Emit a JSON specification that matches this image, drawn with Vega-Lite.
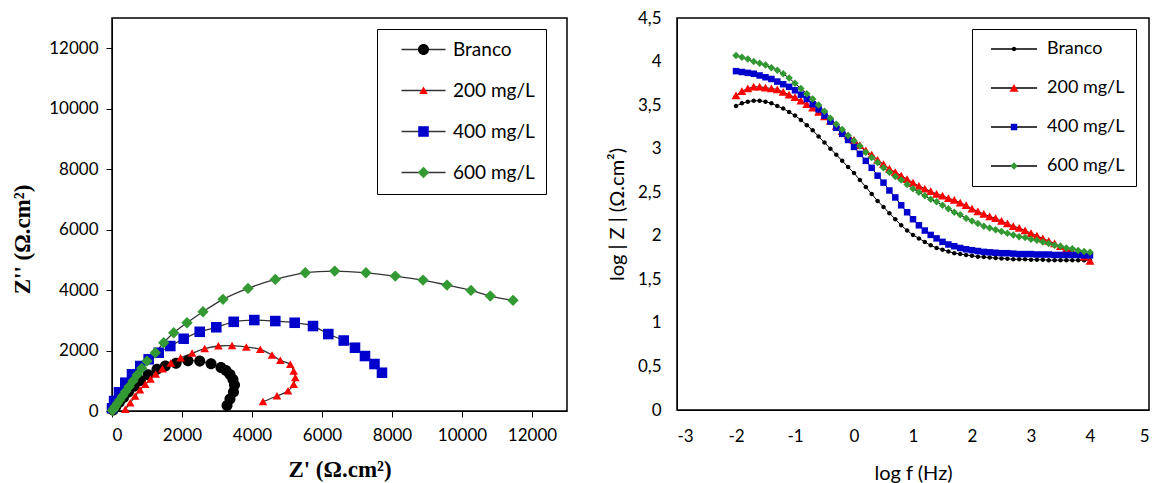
{
  "$schema": "https://vega.github.io/schema/vega-lite/v6.json",
  "padding": {"left": 10, "top": 8, "right": 5, "bottom": 0},
  "bounds": "flush",
  "spacing": 110,
  "config": {
    "view": {"stroke": "#000", "strokeWidth": 1.5},
    "font": "Lato",
    "axis": {"grid": false, "domainColor": "#000", "tickColor": "#000", "labelColor": "#000", "titleColor": "#000", "labelFont": "Lato", "labelFontSize": 17, "labelFontWeight": "normal", "labelOverlap": false}
  },
  "resolve": {"scale": {"color": "independent", "shape": "independent", "stroke": "independent"}},
  "datasets": {
    "nyq": [
      {"s": "Branco", "x": 30, "y": 30}, {"s": "Branco", "x": 110, "y": 150}, {"s": "Branco", "x": 210, "y": 290}, {"s": "Branco", "x": 330, "y": 450}, {"s": "Branco", "x": 470, "y": 630}, {"s": "Branco", "x": 630, "y": 820}, {"s": "Branco", "x": 810, "y": 1010}, {"s": "Branco", "x": 1030, "y": 1200}, {"s": "Branco", "x": 1286, "y": 1378}, {"s": "Branco", "x": 1523, "y": 1488}, {"s": "Branco", "x": 1829, "y": 1580}, {"s": "Branco", "x": 2171, "y": 1660}, {"s": "Branco", "x": 2506, "y": 1650}, {"s": "Branco", "x": 2829, "y": 1560}, {"s": "Branco", "x": 3114, "y": 1438}, {"s": "Branco", "x": 3257, "y": 1339}, {"s": "Branco", "x": 3371, "y": 1207}, {"s": "Branco", "x": 3457, "y": 1041}, {"s": "Branco", "x": 3500, "y": 860}, {"s": "Branco", "x": 3471, "y": 628}, {"s": "Branco", "x": 3371, "y": 397}, {"s": "Branco", "x": 3286, "y": 182},
      {"s": "200 mg/L", "x": 380, "y": 50}, {"s": "200 mg/L", "x": 520, "y": 270}, {"s": "200 mg/L", "x": 660, "y": 490}, {"s": "200 mg/L", "x": 800, "y": 700}, {"s": "200 mg/L", "x": 950, "y": 880}, {"s": "200 mg/L", "x": 1100, "y": 1050}, {"s": "200 mg/L", "x": 1250, "y": 1220}, {"s": "200 mg/L", "x": 1440, "y": 1390}, {"s": "200 mg/L", "x": 1680, "y": 1580}, {"s": "200 mg/L", "x": 1960, "y": 1760}, {"s": "200 mg/L", "x": 2290, "y": 1910}, {"s": "200 mg/L", "x": 2650, "y": 2060}, {"s": "200 mg/L", "x": 3040, "y": 2150}, {"s": "200 mg/L", "x": 3430, "y": 2160}, {"s": "200 mg/L", "x": 3837, "y": 2116}, {"s": "200 mg/L", "x": 4237, "y": 2040}, {"s": "200 mg/L", "x": 4571, "y": 1851}, {"s": "200 mg/L", "x": 4809, "y": 1676}, {"s": "200 mg/L", "x": 5094, "y": 1544}, {"s": "200 mg/L", "x": 5191, "y": 1322}, {"s": "200 mg/L", "x": 5237, "y": 1101}, {"s": "200 mg/L", "x": 5191, "y": 883}, {"s": "200 mg/L", "x": 5029, "y": 661}, {"s": "200 mg/L", "x": 4714, "y": 496}, {"s": "200 mg/L", "x": 4314, "y": 307},
      {"s": "400 mg/L", "x": 0, "y": 90}, {"s": "400 mg/L", "x": 60, "y": 330}, {"s": "400 mg/L", "x": 200, "y": 620}, {"s": "400 mg/L", "x": 380, "y": 936}, {"s": "400 mg/L", "x": 571, "y": 1213}, {"s": "400 mg/L", "x": 808, "y": 1488}, {"s": "400 mg/L", "x": 1048, "y": 1709}, {"s": "400 mg/L", "x": 1334, "y": 1927}, {"s": "400 mg/L", "x": 1666, "y": 2149}, {"s": "400 mg/L", "x": 2048, "y": 2390}, {"s": "400 mg/L", "x": 2506, "y": 2620}, {"s": "400 mg/L", "x": 2980, "y": 2770}, {"s": "400 mg/L", "x": 3477, "y": 2950}, {"s": "400 mg/L", "x": 4066, "y": 3008}, {"s": "400 mg/L", "x": 4666, "y": 2975}, {"s": "400 mg/L", "x": 5220, "y": 2919}, {"s": "400 mg/L", "x": 5743, "y": 2810}, {"s": "400 mg/L", "x": 6180, "y": 2545}, {"s": "400 mg/L", "x": 6620, "y": 2331}, {"s": "400 mg/L", "x": 6943, "y": 2093}, {"s": "400 mg/L", "x": 7228, "y": 1818}, {"s": "400 mg/L", "x": 7500, "y": 1554}, {"s": "400 mg/L", "x": 7714, "y": 1266},
      {"s": "600 mg/L", "x": 15, "y": 20}, {"s": "600 mg/L", "x": 45, "y": 70}, {"s": "600 mg/L", "x": 90, "y": 145}, {"s": "600 mg/L", "x": 150, "y": 245}, {"s": "600 mg/L", "x": 220, "y": 360}, {"s": "600 mg/L", "x": 300, "y": 495}, {"s": "600 mg/L", "x": 390, "y": 645}, {"s": "600 mg/L", "x": 490, "y": 810}, {"s": "600 mg/L", "x": 600, "y": 995}, {"s": "600 mg/L", "x": 720, "y": 1195}, {"s": "600 mg/L", "x": 850, "y": 1410}, {"s": "600 mg/L", "x": 1000, "y": 1650}, {"s": "600 mg/L", "x": 1237, "y": 1927}, {"s": "600 mg/L", "x": 1477, "y": 2258}, {"s": "600 mg/L", "x": 1763, "y": 2588}, {"s": "600 mg/L", "x": 2143, "y": 2919}, {"s": "600 mg/L", "x": 2600, "y": 3283}, {"s": "600 mg/L", "x": 3171, "y": 3693}, {"s": "600 mg/L", "x": 3886, "y": 4056}, {"s": "600 mg/L", "x": 4666, "y": 4354}, {"s": "600 mg/L", "x": 5523, "y": 4572}, {"s": "600 mg/L", "x": 6363, "y": 4628}, {"s": "600 mg/L", "x": 7257, "y": 4572}, {"s": "600 mg/L", "x": 8094, "y": 4463}, {"s": "600 mg/L", "x": 8886, "y": 4330}, {"s": "600 mg/L", "x": 9571, "y": 4165}, {"s": "600 mg/L", "x": 10257, "y": 3990}, {"s": "600 mg/L", "x": 10808, "y": 3802}, {"s": "600 mg/L", "x": 11457, "y": 3660}
    ],
    "bode": [
      {"s": "Branco", "f": -2.0, "z": 3.49}, {"s": "Branco", "f": -1.9, "z": 3.52}, {"s": "Branco", "f": -1.8, "z": 3.54}, {"s": "Branco", "f": -1.7, "z": 3.55}, {"s": "Branco", "f": -1.6, "z": 3.55}, {"s": "Branco", "f": -1.5, "z": 3.54}, {"s": "Branco", "f": -1.4, "z": 3.52}, {"s": "Branco", "f": -1.3, "z": 3.49}, {"s": "Branco", "f": -1.2, "z": 3.46}, {"s": "Branco", "f": -1.1, "z": 3.42}, {"s": "Branco", "f": -1.0, "z": 3.38}, {"s": "Branco", "f": -0.9, "z": 3.33}, {"s": "Branco", "f": -0.8, "z": 3.27}, {"s": "Branco", "f": -0.7, "z": 3.21}, {"s": "Branco", "f": -0.6, "z": 3.14}, {"s": "Branco", "f": -0.5, "z": 3.07}, {"s": "Branco", "f": -0.4, "z": 3.0}, {"s": "Branco", "f": -0.3, "z": 2.93}, {"s": "Branco", "f": -0.2, "z": 2.86}, {"s": "Branco", "f": -0.1, "z": 2.79}, {"s": "Branco", "f": 0.0, "z": 2.72}, {"s": "Branco", "f": 0.1, "z": 2.64}, {"s": "Branco", "f": 0.2, "z": 2.56}, {"s": "Branco", "f": 0.3, "z": 2.48}, {"s": "Branco", "f": 0.4, "z": 2.4}, {"s": "Branco", "f": 0.5, "z": 2.33}, {"s": "Branco", "f": 0.6, "z": 2.26}, {"s": "Branco", "f": 0.7, "z": 2.19}, {"s": "Branco", "f": 0.8, "z": 2.12}, {"s": "Branco", "f": 0.9, "z": 2.06}, {"s": "Branco", "f": 1.0, "z": 2.01}, {"s": "Branco", "f": 1.1, "z": 1.97}, {"s": "Branco", "f": 1.2, "z": 1.93}, {"s": "Branco", "f": 1.3, "z": 1.89}, {"s": "Branco", "f": 1.4, "z": 1.86}, {"s": "Branco", "f": 1.5, "z": 1.84}, {"s": "Branco", "f": 1.6, "z": 1.82}, {"s": "Branco", "f": 1.7, "z": 1.8}, {"s": "Branco", "f": 1.8, "z": 1.79}, {"s": "Branco", "f": 1.9, "z": 1.78}, {"s": "Branco", "f": 2.0, "z": 1.77}, {"s": "Branco", "f": 2.1, "z": 1.76}, {"s": "Branco", "f": 2.2, "z": 1.755}, {"s": "Branco", "f": 2.3, "z": 1.75}, {"s": "Branco", "f": 2.4, "z": 1.745}, {"s": "Branco", "f": 2.5, "z": 1.74}, {"s": "Branco", "f": 2.6, "z": 1.735}, {"s": "Branco", "f": 2.7, "z": 1.73}, {"s": "Branco", "f": 2.8, "z": 1.73}, {"s": "Branco", "f": 2.9, "z": 1.73}, {"s": "Branco", "f": 3.0, "z": 1.725}, {"s": "Branco", "f": 3.1, "z": 1.725}, {"s": "Branco", "f": 3.2, "z": 1.725}, {"s": "Branco", "f": 3.3, "z": 1.72}, {"s": "Branco", "f": 3.4, "z": 1.72}, {"s": "Branco", "f": 3.5, "z": 1.72}, {"s": "Branco", "f": 3.6, "z": 1.72}, {"s": "Branco", "f": 3.7, "z": 1.72}, {"s": "Branco", "f": 3.8, "z": 1.72}, {"s": "Branco", "f": 3.9, "z": 1.72}, {"s": "Branco", "f": 4.0, "z": 1.72},
      {"s": "200 mg/L", "f": -2.0, "z": 3.61}, {"s": "200 mg/L", "f": -1.9, "z": 3.66}, {"s": "200 mg/L", "f": -1.8, "z": 3.69}, {"s": "200 mg/L", "f": -1.7, "z": 3.71}, {"s": "200 mg/L", "f": -1.6, "z": 3.71}, {"s": "200 mg/L", "f": -1.5, "z": 3.7}, {"s": "200 mg/L", "f": -1.4, "z": 3.69}, {"s": "200 mg/L", "f": -1.3, "z": 3.68}, {"s": "200 mg/L", "f": -1.2, "z": 3.65}, {"s": "200 mg/L", "f": -1.1, "z": 3.62}, {"s": "200 mg/L", "f": -1.0, "z": 3.59}, {"s": "200 mg/L", "f": -0.9, "z": 3.55}, {"s": "200 mg/L", "f": -0.8, "z": 3.51}, {"s": "200 mg/L", "f": -0.7, "z": 3.47}, {"s": "200 mg/L", "f": -0.6, "z": 3.42}, {"s": "200 mg/L", "f": -0.5, "z": 3.37}, {"s": "200 mg/L", "f": -0.4, "z": 3.32}, {"s": "200 mg/L", "f": -0.3, "z": 3.26}, {"s": "200 mg/L", "f": -0.2, "z": 3.2}, {"s": "200 mg/L", "f": -0.1, "z": 3.15}, {"s": "200 mg/L", "f": 0.0, "z": 3.1}, {"s": "200 mg/L", "f": 0.1, "z": 3.04}, {"s": "200 mg/L", "f": 0.2, "z": 2.98}, {"s": "200 mg/L", "f": 0.3, "z": 2.93}, {"s": "200 mg/L", "f": 0.4, "z": 2.87}, {"s": "200 mg/L", "f": 0.5, "z": 2.82}, {"s": "200 mg/L", "f": 0.6, "z": 2.77}, {"s": "200 mg/L", "f": 0.7, "z": 2.73}, {"s": "200 mg/L", "f": 0.8, "z": 2.69}, {"s": "200 mg/L", "f": 0.9, "z": 2.65}, {"s": "200 mg/L", "f": 1.0, "z": 2.61}, {"s": "200 mg/L", "f": 1.1, "z": 2.57}, {"s": "200 mg/L", "f": 1.2, "z": 2.54}, {"s": "200 mg/L", "f": 1.3, "z": 2.51}, {"s": "200 mg/L", "f": 1.4, "z": 2.48}, {"s": "200 mg/L", "f": 1.5, "z": 2.46}, {"s": "200 mg/L", "f": 1.6, "z": 2.43}, {"s": "200 mg/L", "f": 1.7, "z": 2.41}, {"s": "200 mg/L", "f": 1.8, "z": 2.38}, {"s": "200 mg/L", "f": 1.9, "z": 2.35}, {"s": "200 mg/L", "f": 2.0, "z": 2.31}, {"s": "200 mg/L", "f": 2.1, "z": 2.28}, {"s": "200 mg/L", "f": 2.2, "z": 2.25}, {"s": "200 mg/L", "f": 2.3, "z": 2.22}, {"s": "200 mg/L", "f": 2.4, "z": 2.2}, {"s": "200 mg/L", "f": 2.5, "z": 2.17}, {"s": "200 mg/L", "f": 2.6, "z": 2.14}, {"s": "200 mg/L", "f": 2.7, "z": 2.11}, {"s": "200 mg/L", "f": 2.8, "z": 2.09}, {"s": "200 mg/L", "f": 2.9, "z": 2.06}, {"s": "200 mg/L", "f": 3.0, "z": 2.03}, {"s": "200 mg/L", "f": 3.1, "z": 2.0}, {"s": "200 mg/L", "f": 3.2, "z": 1.97}, {"s": "200 mg/L", "f": 3.3, "z": 1.94}, {"s": "200 mg/L", "f": 3.4, "z": 1.91}, {"s": "200 mg/L", "f": 3.5, "z": 1.88}, {"s": "200 mg/L", "f": 3.6, "z": 1.85}, {"s": "200 mg/L", "f": 3.7, "z": 1.82}, {"s": "200 mg/L", "f": 3.8, "z": 1.79}, {"s": "200 mg/L", "f": 3.9, "z": 1.76}, {"s": "200 mg/L", "f": 4.0, "z": 1.71},
      {"s": "400 mg/L", "f": -2.0, "z": 3.89}, {"s": "400 mg/L", "f": -1.9, "z": 3.88}, {"s": "400 mg/L", "f": -1.8, "z": 3.87}, {"s": "400 mg/L", "f": -1.7, "z": 3.86}, {"s": "400 mg/L", "f": -1.6, "z": 3.84}, {"s": "400 mg/L", "f": -1.5, "z": 3.82}, {"s": "400 mg/L", "f": -1.4, "z": 3.8}, {"s": "400 mg/L", "f": -1.3, "z": 3.77}, {"s": "400 mg/L", "f": -1.2, "z": 3.74}, {"s": "400 mg/L", "f": -1.1, "z": 3.71}, {"s": "400 mg/L", "f": -1.0, "z": 3.67}, {"s": "400 mg/L", "f": -0.9, "z": 3.62}, {"s": "400 mg/L", "f": -0.8, "z": 3.57}, {"s": "400 mg/L", "f": -0.7, "z": 3.51}, {"s": "400 mg/L", "f": -0.6, "z": 3.45}, {"s": "400 mg/L", "f": -0.5, "z": 3.38}, {"s": "400 mg/L", "f": -0.4, "z": 3.31}, {"s": "400 mg/L", "f": -0.3, "z": 3.24}, {"s": "400 mg/L", "f": -0.2, "z": 3.17}, {"s": "400 mg/L", "f": -0.1, "z": 3.1}, {"s": "400 mg/L", "f": 0.0, "z": 3.02}, {"s": "400 mg/L", "f": 0.1, "z": 2.94}, {"s": "400 mg/L", "f": 0.2, "z": 2.86}, {"s": "400 mg/L", "f": 0.3, "z": 2.78}, {"s": "400 mg/L", "f": 0.4, "z": 2.69}, {"s": "400 mg/L", "f": 0.5, "z": 2.61}, {"s": "400 mg/L", "f": 0.6, "z": 2.52}, {"s": "400 mg/L", "f": 0.7, "z": 2.44}, {"s": "400 mg/L", "f": 0.8, "z": 2.35}, {"s": "400 mg/L", "f": 0.9, "z": 2.27}, {"s": "400 mg/L", "f": 1.0, "z": 2.19}, {"s": "400 mg/L", "f": 1.1, "z": 2.12}, {"s": "400 mg/L", "f": 1.2, "z": 2.06}, {"s": "400 mg/L", "f": 1.3, "z": 2.01}, {"s": "400 mg/L", "f": 1.4, "z": 1.97}, {"s": "400 mg/L", "f": 1.5, "z": 1.93}, {"s": "400 mg/L", "f": 1.6, "z": 1.9}, {"s": "400 mg/L", "f": 1.7, "z": 1.88}, {"s": "400 mg/L", "f": 1.8, "z": 1.86}, {"s": "400 mg/L", "f": 1.9, "z": 1.845}, {"s": "400 mg/L", "f": 2.0, "z": 1.835}, {"s": "400 mg/L", "f": 2.1, "z": 1.825}, {"s": "400 mg/L", "f": 2.2, "z": 1.815}, {"s": "400 mg/L", "f": 2.3, "z": 1.81}, {"s": "400 mg/L", "f": 2.4, "z": 1.805}, {"s": "400 mg/L", "f": 2.5, "z": 1.8}, {"s": "400 mg/L", "f": 2.6, "z": 1.8}, {"s": "400 mg/L", "f": 2.7, "z": 1.795}, {"s": "400 mg/L", "f": 2.8, "z": 1.79}, {"s": "400 mg/L", "f": 2.9, "z": 1.79}, {"s": "400 mg/L", "f": 3.0, "z": 1.79}, {"s": "400 mg/L", "f": 3.1, "z": 1.785}, {"s": "400 mg/L", "f": 3.2, "z": 1.785}, {"s": "400 mg/L", "f": 3.3, "z": 1.785}, {"s": "400 mg/L", "f": 3.4, "z": 1.78}, {"s": "400 mg/L", "f": 3.5, "z": 1.78}, {"s": "400 mg/L", "f": 3.6, "z": 1.78}, {"s": "400 mg/L", "f": 3.7, "z": 1.78}, {"s": "400 mg/L", "f": 3.8, "z": 1.78}, {"s": "400 mg/L", "f": 3.9, "z": 1.775}, {"s": "400 mg/L", "f": 4.0, "z": 1.775},
      {"s": "600 mg/L", "f": -2.0, "z": 4.07}, {"s": "600 mg/L", "f": -1.9, "z": 4.05}, {"s": "600 mg/L", "f": -1.8, "z": 4.03}, {"s": "600 mg/L", "f": -1.7, "z": 4.0}, {"s": "600 mg/L", "f": -1.6, "z": 3.98}, {"s": "600 mg/L", "f": -1.5, "z": 3.96}, {"s": "600 mg/L", "f": -1.4, "z": 3.93}, {"s": "600 mg/L", "f": -1.3, "z": 3.9}, {"s": "600 mg/L", "f": -1.2, "z": 3.86}, {"s": "600 mg/L", "f": -1.1, "z": 3.81}, {"s": "600 mg/L", "f": -1.0, "z": 3.75}, {"s": "600 mg/L", "f": -0.9, "z": 3.69}, {"s": "600 mg/L", "f": -0.8, "z": 3.63}, {"s": "600 mg/L", "f": -0.7, "z": 3.57}, {"s": "600 mg/L", "f": -0.6, "z": 3.5}, {"s": "600 mg/L", "f": -0.5, "z": 3.43}, {"s": "600 mg/L", "f": -0.4, "z": 3.35}, {"s": "600 mg/L", "f": -0.3, "z": 3.28}, {"s": "600 mg/L", "f": -0.2, "z": 3.22}, {"s": "600 mg/L", "f": -0.1, "z": 3.15}, {"s": "600 mg/L", "f": 0.0, "z": 3.09}, {"s": "600 mg/L", "f": 0.1, "z": 3.03}, {"s": "600 mg/L", "f": 0.2, "z": 2.96}, {"s": "600 mg/L", "f": 0.3, "z": 2.9}, {"s": "600 mg/L", "f": 0.4, "z": 2.84}, {"s": "600 mg/L", "f": 0.5, "z": 2.78}, {"s": "600 mg/L", "f": 0.6, "z": 2.73}, {"s": "600 mg/L", "f": 0.7, "z": 2.68}, {"s": "600 mg/L", "f": 0.8, "z": 2.64}, {"s": "600 mg/L", "f": 0.9, "z": 2.59}, {"s": "600 mg/L", "f": 1.0, "z": 2.54}, {"s": "600 mg/L", "f": 1.1, "z": 2.5}, {"s": "600 mg/L", "f": 1.2, "z": 2.46}, {"s": "600 mg/L", "f": 1.3, "z": 2.42}, {"s": "600 mg/L", "f": 1.4, "z": 2.39}, {"s": "600 mg/L", "f": 1.5, "z": 2.35}, {"s": "600 mg/L", "f": 1.6, "z": 2.31}, {"s": "600 mg/L", "f": 1.7, "z": 2.27}, {"s": "600 mg/L", "f": 1.8, "z": 2.24}, {"s": "600 mg/L", "f": 1.9, "z": 2.2}, {"s": "600 mg/L", "f": 2.0, "z": 2.17}, {"s": "600 mg/L", "f": 2.1, "z": 2.14}, {"s": "600 mg/L", "f": 2.2, "z": 2.11}, {"s": "600 mg/L", "f": 2.3, "z": 2.09}, {"s": "600 mg/L", "f": 2.4, "z": 2.07}, {"s": "600 mg/L", "f": 2.5, "z": 2.05}, {"s": "600 mg/L", "f": 2.6, "z": 2.03}, {"s": "600 mg/L", "f": 2.7, "z": 2.01}, {"s": "600 mg/L", "f": 2.8, "z": 1.99}, {"s": "600 mg/L", "f": 2.9, "z": 1.98}, {"s": "600 mg/L", "f": 3.0, "z": 1.96}, {"s": "600 mg/L", "f": 3.1, "z": 1.95}, {"s": "600 mg/L", "f": 3.2, "z": 1.93}, {"s": "600 mg/L", "f": 3.3, "z": 1.91}, {"s": "600 mg/L", "f": 3.4, "z": 1.89}, {"s": "600 mg/L", "f": 3.5, "z": 1.88}, {"s": "600 mg/L", "f": 3.6, "z": 1.86}, {"s": "600 mg/L", "f": 3.7, "z": 1.85}, {"s": "600 mg/L", "f": 3.8, "z": 1.83}, {"s": "600 mg/L", "f": 3.9, "z": 1.82}, {"s": "600 mg/L", "f": 4.0, "z": 1.81}
    ]
  },
  "hconcat": [
    {
      "width": 455,
      "height": 393,
      "data": {"name": "nyq"},
      "encoding": {
        "x": {"field": "x", "type": "quantitative", "scale": {"domain": [0, 13000], "nice": false},
              "axis": {"title": "Z' (Ω.cm²)", "values": [0, 2000, 4000, 6000, 8000, 10000, 12000], "format": "d", "tickSize": 6, "labelPadding": 10, "titlePadding": 15, "titleFont": "Liberation Serif", "titleFontWeight": "bold", "titleFontSize": 23}},
        "y": {"field": "y", "type": "quantitative", "scale": {"domain": [0, 13000], "nice": false},
              "axis": {"title": "Z'' (Ω.cm²)", "values": [0, 2000, 4000, 6000, 8000, 10000, 12000], "format": "d", "tickSize": 6, "labelPadding": 8, "titleX": -78, "titleY": 221, "titleFont": "Liberation Serif", "titleFontWeight": "bold", "titleFontSize": 23}}
      },
      "layer": [
        {
          "mark": {"type": "line", "interpolate": "catmull-rom", "strokeWidth": 1.3},
          "encoding": {
            "stroke": {"field": "s", "type": "nominal", "sort": ["Branco", "200 mg/L", "400 mg/L", "600 mg/L"], "scale": {"range": ["#333333", "#333333", "#333333", "#333333"]},
                       "legend": {"title": null, "orient": "none", "legendX": 265, "legendY": 11, "padding": 11, "strokeColor": "#000", "symbolType": "M-3.67,0L3.67,0", "symbolSize": 144, "symbolStrokeWidth": 1.3, "symbolStrokeColor": "#000", "symbolFillColor": "transparent", "symbolOffset": 26, "labelOffset": 20, "labelFont": "Lato", "labelFontSize": 19, "labelColor": "#000", "rowPadding": 21}},
            "order": {"value": null}
          }
        },
        {
          "mark": {"type": "point", "filled": true, "opacity": 1, "size": 144, "strokeWidth": 0},
          "encoding": {
            "color": {"field": "s", "type": "nominal", "scale": {"domain": ["Branco", "200 mg/L", "400 mg/L", "600 mg/L"], "range": ["#000000", "#ff0000", "#0000cc", "#339933"]},
                      "legend": {"title": null, "orient": "none", "legendX": 265, "legendY": 11, "padding": 11, "symbolSize": 144, "symbolOffset": 26, "labelOffset": 20, "labelOpacity": 0, "labelFont": "Lato", "labelFontSize": 19, "rowPadding": 21, "symbolStrokeWidth": 0, "zindex": 1}},
            "shape": {"field": "s", "type": "nominal", "scale": {"domain": ["Branco", "200 mg/L", "400 mg/L", "600 mg/L"], "range": ["M0.92,0A0.92,0.92 0 1,1 -0.92,0A0.92,0.92 0 1,1 0.92,0Z", "M0,-0.65L0.72,0.6L-0.72,0.6Z", "M-0.88,-0.88L0.88,-0.88L0.88,0.88L-0.88,0.88Z", "M0,-0.95L0.95,0L0,0.95L-0.95,0Z"]},
                      "legend": {"title": null, "orient": "none", "legendX": 265, "legendY": 11, "padding": 11, "symbolSize": 144, "symbolOffset": 26, "labelOffset": 20, "labelOpacity": 0, "labelFont": "Lato", "labelFontSize": 19, "rowPadding": 21, "symbolStrokeWidth": 0, "zindex": 1}}
          }
        }
      ]
    },
    {
      "width": 472,
      "height": 392,
      "data": {"name": "bode"},
      "encoding": {
        "x": {"field": "f", "type": "quantitative", "scale": {"domain": [-3, 5], "nice": false},
              "axis": {"title": "log f (Hz)", "values": [-3, -2, -1, 0, 1, 2, 3, 4, 5], "labelExpr": "datum.value < 0 ? '-' + abs(datum.value) : '' + datum.value", "tickSize": 0, "labelPadding": 18, "titlePadding": 19, "titleFont": "Lato", "titleFontWeight": "normal", "titleFontSize": 20}},
        "y": {"field": "z", "type": "quantitative", "scale": {"domain": [0, 4.5], "nice": false},
              "axis": {"title": "log | Z | (Ω.cm²)", "values": [0, 0.5, 1, 1.5, 2, 2.5, 3, 3.5, 4, 4.5], "labelExpr": "replace(format(datum.value, '~g'), '.', ',')", "tickSize": 0, "labelPadding": 16, "titlePadding": 10, "titleFont": "Lato", "titleFontWeight": "normal", "titleFontSize": 20}}
      },
      "layer": [
        {
          "mark": {"type": "line", "strokeWidth": 1},
          "encoding": {
            "stroke": {"field": "s", "type": "nominal", "sort": ["Branco", "200 mg/L", "400 mg/L", "600 mg/L"], "scale": {"range": ["#000000", "#000000", "#000000", "#000000"]},
                       "legend": {"title": null, "orient": "none", "legendX": 295, "legendY": 11, "padding": 11, "strokeColor": "#000", "symbolType": "M-4.6,0L4.6,0", "symbolSize": 100, "symbolStrokeWidth": 1.3, "symbolStrokeColor": "#000", "symbolFillColor": "transparent", "symbolOffset": 22, "labelOffset": 24, "labelFont": "Lato", "labelFontSize": 18, "labelColor": "#000", "rowPadding": 21}}
          }
        },
        {
          "mark": {"type": "point", "filled": true, "opacity": 1, "size": 100, "strokeWidth": 0},
          "encoding": {
            "color": {"field": "s", "type": "nominal", "scale": {"domain": ["Branco", "200 mg/L", "400 mg/L", "600 mg/L"], "range": ["#000000", "#ff0000", "#0000cc", "#339933"]},
                      "legend": {"title": null, "orient": "none", "legendX": 295, "legendY": 11, "padding": 11, "symbolSize": 100, "symbolOffset": 22, "labelOffset": 24, "labelOpacity": 0, "labelFont": "Lato", "labelFontSize": 18, "rowPadding": 21, "symbolStrokeWidth": 0, "zindex": 1}},
            "shape": {"field": "s", "type": "nominal", "scale": {"domain": ["Branco", "200 mg/L", "400 mg/L", "600 mg/L"], "range": ["M0.45,0A0.45,0.45 0 1,1 -0.45,0A0.45,0.45 0 1,1 0.45,0Z", "M0,-0.8L0.9,0.75L-0.9,0.75Z", "M-0.65,-0.65L0.65,-0.65L0.65,0.65L-0.65,0.65Z", "M0,-0.75L0.75,0L0,0.75L-0.75,0Z"]},
                      "legend": {"title": null, "orient": "none", "legendX": 295, "legendY": 11, "padding": 11, "symbolSize": 100, "symbolOffset": 22, "labelOffset": 24, "labelOpacity": 0, "labelFont": "Lato", "labelFontSize": 18, "rowPadding": 21, "symbolStrokeWidth": 0, "zindex": 1}}
          }
        }
      ]
    }
  ]
}
